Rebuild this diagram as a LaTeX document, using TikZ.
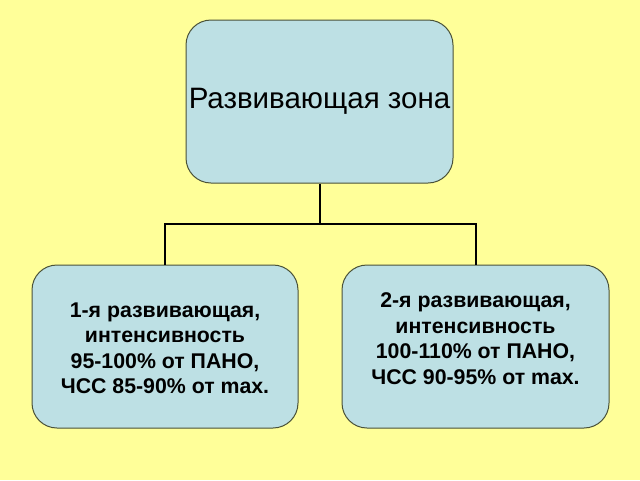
\documentclass[tikz,border=0pt]{standalone}
\usepackage{fontspec}
\setmainfont{Liberation Sans}
\usepackage{xcolor}
\usetikzlibrary{positioning, calc}

\definecolor{bgyellow}{HTML}{FFFF99}
\definecolor{zonefill}{HTML}{BDE0E4}
\definecolor{zoneline}{HTML}{4A5238}

\begin{document}
\begin{tikzpicture}[x=1pt, y=-1pt, semithick,
  zone/.style={draw=zoneline, line width=1pt, fill=zonefill, rounded corners=25pt, inner sep=0pt, align=center},
  zonetext/.style={align=center, font=\bfseries\fontsize{21.3}{25.5}\selectfont, inner sep=0pt},
  fork/.style={draw=black, line width=2pt}]
  \fill[bgyellow] (0,0) rectangle (640,480);
  \useasboundingbox (0,0) rectangle (640,480);

  \node[zone, minimum width=267pt, minimum height=163pt, font=\fontsize{29.5}{34}\selectfont] (top) at (319.5,101.5) {Развивающая зона};
  \node[zone, minimum width=266pt, minimum height=163pt] (z1) at (165,346.5) {};
  \node[zone, minimum width=267pt, minimum height=163pt] (z2) at (475.5,346.5) {};

  \node[zonetext] (t1) at ([yshift=-2pt]z1.center) {1-я развивающая,\\интенсивность\\95-100\% от ПАНО,\\ЧСС 85-90\% от max.};
  \node[zonetext] (t2) at ([yshift=8pt]z2.center) {2-я развивающая,\\интенсивность\\100-110\% от ПАНО,\\ЧСС 90-95\% от max.};

  % connectors
  \draw[fork] (top.south) -- ++(0,40) coordinate (split) -| (z1.north);
  \draw[fork] (split) -| (z2.north);
\end{tikzpicture}
\end{document}
